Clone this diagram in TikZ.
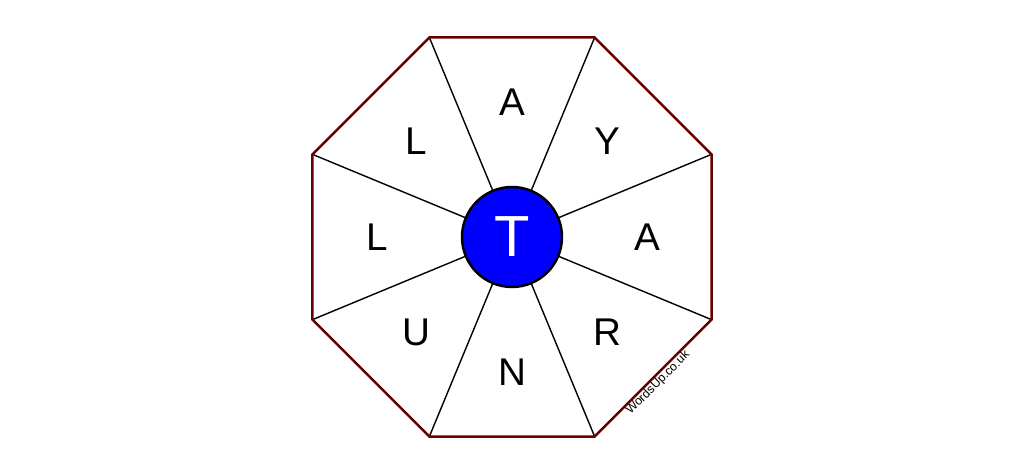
\documentclass[tikz,border=0pt]{standalone}
\usepackage{fontspec}
\setmainfont{Liberation Sans}
\definecolor{rimred}{RGB}{102,0,0}
\begin{document}
\begin{tikzpicture}
  [ 
    x=0.02cm, y=0.02cm,
    letter/.style={font=\fontsize{22}{22}\selectfont, inner sep=0pt},
    spoke/.style={draw=black, line width=0.8pt},
    rim/.style={draw=rimred, line width=1.4pt, line join=miter}
  ]
  \useasboundingbox (-512,-239) rectangle (512,237);

  \coordinate (vNE) at ( 22.5:216);
  \coordinate (vNN) at ( 67.5:216);
  \coordinate (vNW) at (112.5:216);
  \coordinate (vWW) at (157.5:216);
  \coordinate (vSW) at (202.5:216);
  \coordinate (vSS) at (247.5:216);
  \coordinate (vSE) at (292.5:216);
  \coordinate (vEE) at (337.5:216);

  \node (hub) at (0,0) [circle, minimum size=100\pgflinewidth, inner sep=0pt, minimum size=2cm] {};

  \draw [spoke] (hub) -- (vNE);
  \draw [spoke] (hub) -- (vNN);
  \draw [spoke] (hub) -- (vNW);
  \draw [spoke] (hub) -- (vWW);
  \draw [spoke] (hub) -- (vSW);
  \draw [spoke] (hub) -- (vSS);
  \draw [spoke] (hub) -- (vSE);
  \draw [spoke] (hub) -- (vEE);

  \draw [rim] (vNE) -- (vNN) -- (vNW) -- (vWW) -- (vSW) -- (vSS) -- (vSE) -- (vEE) -- cycle;

  \node (hubT) at (0,0) [circle, fill=blue, draw=black, line width=1.4pt, minimum size=2cm, inner sep=0pt,
    text=white, font=\fontsize{33}{33}\selectfont] {T};

  \node (lN)  at ( 90:135) [letter] {A};
  \node (lNE) at ( 45:135) [letter] {Y};
  \node (lE)  at (  0:135) [letter] {A};
  \node (lSE) at (-45:135) [letter] {R};
  \node (lS)  at (-90:135) [letter] {N};
  \node (lSW) at (-135:135) [letter] {U};
  \node (lW)  at (180:135) [letter] {L};
  \node (lNW) at (135:135) [letter] {L};

  \node (mark) at (146,-146) [rotate=45, font=\fontsize{7}{7}\selectfont, inner sep=0pt] {WordsUp.co.uk};
\end{tikzpicture}
\end{document}
